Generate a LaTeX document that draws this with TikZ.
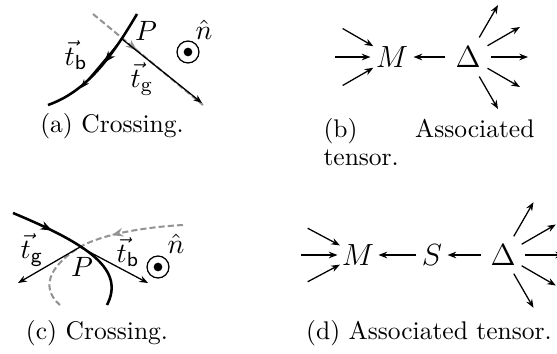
\documentclass[tikz,border=0pt]{standalone}
\usetikzlibrary{arrows.meta,decorations.markings}
\begin{document}
\begin{tikzpicture}[x=0.392pt,y=-0.392pt,
  >={Stealth[length=3.4pt,width=2.6pt]},
  vec/.style={->,line width=0.5pt},
  invec/.style={<-,line width=0.5pt},
  thickcurve/.style={line width=1pt},
  gline/.style={black!42,line width=0.8pt,dash pattern=on 2.4pt off 1.2pt},
  midarrow/.style={postaction={decorate},decoration={markings,mark=at position #1 with {\arrow{Stealth[length=4.5pt,width=3.4pt]}}}},
  lbl/.style={inner sep=0pt,font=\fontsize{11}{13}\selectfont},
  captext/.style={inner sep=0pt,anchor=base},
  bignode/.style={circle,inner sep=0pt,font=\large},
  ringnode/.style={circle,draw,line width=0.5pt,inner sep=0pt,minimum size=8.6pt},
  dotnode/.style={circle,fill,inner sep=0pt,minimum size=3.4pt}
]
\useasboundingbox (0,0) rectangle (557,354);

% ---------- (a) ----------
\coordinate (Pa) at (122,39);
\coordinate (a1) at (137,14);
\coordinate (a2) at (48,105);
\coordinate (ga) at (93,14);
\coordinate (gb) at (203,105);
\coordinate (tba) at (81,88);
\coordinate (tga) at (202,103);
\draw[gline,midarrow=0.4] (ga) -- (gb);
\draw[thickcurve,midarrow=0.45] (a1) .. controls (110,60) and (85,92) .. (a2);
\draw[vec] (Pa) -- (tba);
\draw[vec] (Pa) -- (tga);
\node[lbl] (Pla) at (146,31) {$P$};
\node[lbl] (tbla) at (76,55) {$\vec{t}_{\mathsf{b}}$};
\node[lbl] (tgla) at (142,79) {$\vec{t}_{\mathrm{g}}$};
\node[lbl] (nla) at (204,30) {$\hat{n}$};
\node[ringnode] (na) at (188,52) {};
\node[dotnode] (nda) at (na) {};
\node[captext] (capa) at (112,132) {(a) Crossing.};

% ---------- (b) ----------
\node[bignode,minimum size=16.5pt] (Mb) at (392,57) {$M$};
\node[bignode,minimum size=17.3pt] (Db) at (468,57) {$\Delta$};
\draw[vec] (Db) -- (Mb);
\foreach \a in {150,180,210} \draw[invec] (Mb) -- +(\a:57);
\foreach \a in {-60,-30,0,30,60} \draw[vec] (Db) -- +(\a:60);
\node[captext,anchor=base west] (capb1) at (323,137) {(b)};
\node[captext,anchor=base east] (capb2) at (535,137) {Associated};
\node[captext,anchor=base west] (capb3) at (323,165) {tensor.};

% ---------- (c) ----------
\coordinate (Pc) at (80,247);
\coordinate (c1) at (13,213);
\coordinate (c2) at (107,305);
\coordinate (d1) at (183,225);
\coordinate (d2) at (60,305);
\coordinate (tbc) at (148,283);
\coordinate (tgc) at (18,283);
\draw[gline,midarrow=0.4] (d1) .. controls (130,228) and (95,238) .. (Pc) .. controls (55,262) and (37,285) .. (d2);
\draw[thickcurve,midarrow=0.29] (c1) .. controls (90,245) and (125,270) .. (c2);
\draw[vec] (Pc) -- (tbc);
\draw[vec] (Pc) -- (tgc);
\node[lbl] (Plc) at (82,267) {$P$};
\node[lbl] (tglc) at (32,250) {$\vec{t}_{\mathsf{g}}$};
\node[lbl] (tblc) at (128,252) {$\vec{t}_{\mathsf{b}}$};
\node[lbl] (nlc) at (176,244) {$\hat{n}$};
\node[ringnode] (nc) at (158,267) {};
\node[dotnode] (ndc) at (nc) {};
\node[captext] (capc) at (97,339) {(c) Crossing.};

% ---------- (d) ----------
\node[bignode,minimum size=15.7pt] (Md) at (358,255) {$M$};
\node[bignode,minimum size=11.8pt] (Sd) at (432,255) {$S$};
\node[bignode,minimum size=16.5pt] (Dd) at (503,255) {$\Delta$};
\draw[vec] (Sd) -- (Md);
\draw[vec] (Dd) -- (Sd);
\foreach \a in {152,180,208} \draw[invec] (Md) -- +(\a:57);
\foreach \a in {-60,-30,0,30,60} \draw[vec] (Dd) -- +(\a:61);
\node[captext] (capd) at (429,339) {(d) Associated tensor.};
\end{tikzpicture}
\end{document}
